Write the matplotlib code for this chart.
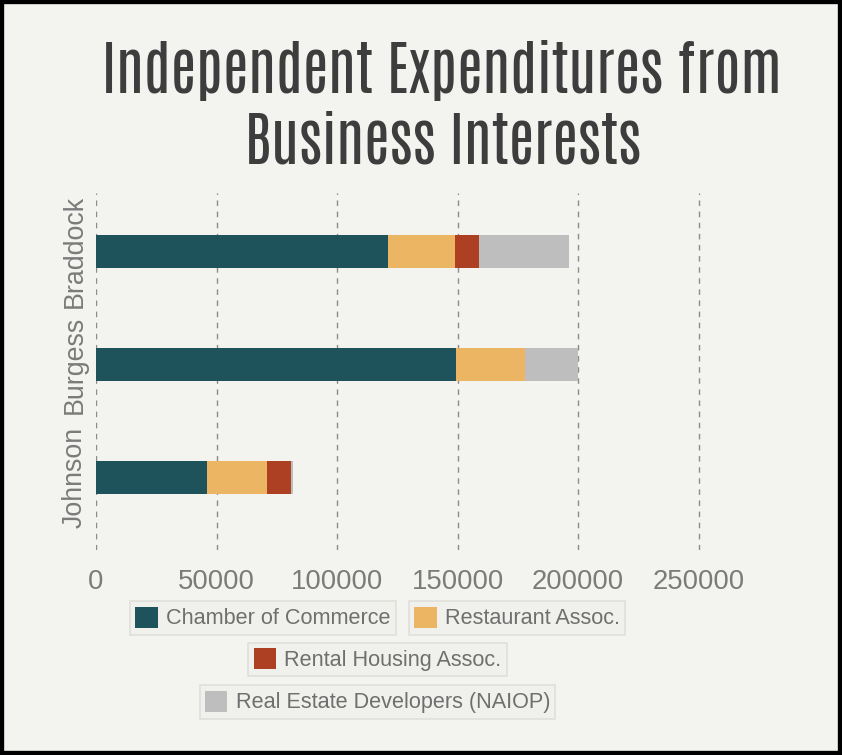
import matplotlib
matplotlib.use("Agg")
import matplotlib.pyplot as plt
from matplotlib.patches import Patch, Rectangle
from matplotlib.font_manager import FontProperties, fontManager
from matplotlib.textpath import TextPath
import numpy as np

# ---- data ----
candidates = ["Johnson", "Burgess", "Braddock"]
series_names = ["Chamber of Commerce", "Restaurant Assoc.", "Rental Housing Assoc.",
                "Real Estate Developers (NAIOP)"]
chamber = [46000, 149500, 121000]
restaurant = [25000, 28500, 28000]
rental = [10000, 0, 9800]
naiop = [700, 22000, 37500]
xticks = [0, 50000, 100000, 150000, 200000, 250000]
title_lines = ["Independent Expenditures from", "Business Interests"]

colors = ["#1f535c", "#ebb563", "#ad3f22", "#bebebe"]
bg = "#f3f3ef"
W, H = 842, 755

fig = plt.figure(figsize=(W / 100, H / 100), dpi=100)
fig.patch.set_facecolor(bg)

def fx(px):
    return px / W

def fy(py):
    return 1 - py / H

ax = fig.add_axes([fx(96), fy(550), fx(771) - fx(96), fy(193) - fy(550)])
ax.set_facecolor(bg)

y = np.arange(len(candidates))
left = np.zeros(len(candidates))
for vals, c in zip([chamber, restaurant, rental, naiop], colors):
    ax.barh(y, vals, left=left, height=0.29, color=c, zorder=3, linewidth=0)
    left = left + np.array(vals)

ax.set_xlim(0, 280000)
ax.set_ylim(-0.64, 2.52)
ax.set_xticks(xticks)
ax.set_xticklabels([str(t) for t in xticks])
ax.set_yticks(y)
ax.set_yticklabels(candidates, rotation=90, va="center")
for s in ax.spines.values():
    s.set_visible(False)
ax.tick_params(length=0)
ax.tick_params(axis="x", pad=14, labelsize=19.8, labelcolor="#7b7b7b")
ax.tick_params(axis="y", pad=6, labelsize=19.3, labelcolor="#7b7b7b")
for lab in ax.get_xticklabels() + ax.get_yticklabels():
    lab.set_family("Liberation Sans")
ax.xaxis.grid(True, color="#8c8c8c", linestyle=(0, (4, 4)), linewidth=1, zorder=0)
ax.yaxis.grid(False)

# ---- title: a medium-weight condensed face, sized to the original ----
target_w, target_cap = 672.0, 51.5
options = []
for fam in ["Barlow Condensed", "Fira Sans Extra Condensed", "Sofia Sans Extra Condensed",
            "Roboto Condensed", "Encode Sans Condensed", "Oswald", "Antonio"]:
    ws = sorted({int(f.weight) if str(f.weight).isdigit() else 400
                 for f in fontManager.ttflist if f.name == fam})
    for wt in ws:
        if 500 <= wt <= 600 or (fam in ("Oswald", "Antonio") and wt == 400):
            options.append((fam, wt))
best = None
for fam, wt in options:
    fp = FontProperties(family=fam, weight=wt)
    w = TextPath((0, 0), title_lines[0], size=100, prop=fp).get_extents().width
    cap = TextPath((0, 0), "I", size=100, prop=fp).get_extents().height
    score = abs(np.log((w / cap) / (target_w / target_cap)))
    if best is None or score < best[0]:
        best = (score, fam, wt, w, cap)
if best is None:
    best = (0, "DejaVu Sans", 400, 1, 1)
_, tfam, tweight, w100, cap100 = best
size_w = target_w / (w100 / 100 * 100 / 72)
size_c = target_cap / (cap100 / 100 * 100 / 72)
tsize = min(size_w, np.sqrt(size_w * size_c))
for txt, cx, by in zip(title_lines, [442, 443], [93, 163]):
    fig.text(fx(cx), fy(by), txt, ha="center", va="baseline", fontsize=tsize,
             family=[tfam, "DejaVu Sans"], weight=tweight, color="#3d3d3d")

# ---- legend boxes ----
centers = [(263, 618), (517, 618), (377.5, 659.5), (377.5, 702)]
for name, c, (cx, cy) in zip(series_names, colors, centers):
    h = Patch(facecolor=c, edgecolor="none")
    lg = fig.legend([h], [name], loc="center", bbox_to_anchor=(fx(cx), fy(cy)),
                    bbox_transform=fig.transFigure, frameon=True, fancybox=False,
                    prop={"family": "Liberation Sans", "size": 15.6},
                    handlelength=1.03, handleheight=1.12, handletextpad=0.38,
                    borderpad=0.25, borderaxespad=0)
    fr = lg.get_frame()
    fr.set_facecolor("#f0f0ec")
    fr.set_edgecolor("#e0dfda")
    fr.set_linewidth(1.2)
    fr.set_alpha(1)
    for t in lg.get_texts():
        t.set_color("#6f6f6f")

# ---- black border ----
fig.patches.append(Rectangle((0, 0), 1, 1, transform=fig.transFigure, fill=False,
                             edgecolor="black", linewidth=6, zorder=10))

fig.savefig("out.png", dpi=100, facecolor=bg)
